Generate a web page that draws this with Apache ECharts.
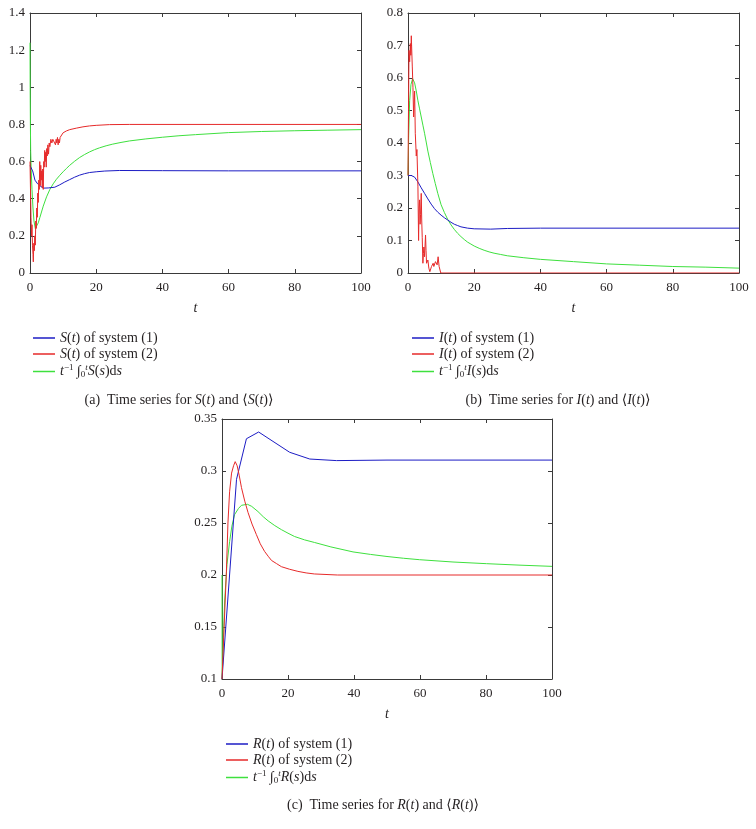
<!DOCTYPE html>
<html><head><meta charset="utf-8">
<script src="https://cdn.jsdelivr.net/npm/echarts@6/dist/echarts.min.js"></script>
<style>html,body{margin:0;padding:0;background:#fff}#c{width:756px;height:829px}</style>
</head><body><div id="c"></div>
<script>
// ---- data (t, value) ----
const xTicks = [0, 20, 40, 60, 80, 100];
const sSys1 = [[0,0.578],[0.8,0.55],[1.5,0.5],[2.3,0.48],[3,0.47],[4,0.457],[5.5,0.458],[7.5,0.462],[9,0.475],[10.5,0.49],[12,0.503],[13.5,0.516],[15,0.527],[16.5,0.535],[18,0.541],[20,0.545],[22.6,0.549],[27,0.552],[40,0.551],[60,0.55],[100,0.55]];
const sSys2 = [[0,0.6],[0.15,0.45],[0.3,0.3],[0.45,0.2],[0.6,0.26],[0.75,0.15],[0.9,0.1],[1.0,0.06],[1.15,0.16],[1.3,0.12],[1.45,0.2],[1.6,0.15],[1.75,0.28],[1.9,0.24],[2.05,0.35],[2.2,0.3],[2.35,0.43],[2.5,0.38],[2.65,0.5],[2.8,0.45],[2.95,0.6],[3.1,0.47],[3.25,0.58],[3.4,0.5],[3.55,0.55],[3.7,0.46],[3.85,0.56],[4.0,0.45],[4.15,0.6],[4.3,0.57],[4.45,0.66],[4.6,0.6],[4.75,0.65],[4.9,0.57],[5.05,0.67],[5.2,0.63],[5.4,0.69],[5.6,0.64],[5.8,0.7],[6.0,0.68],[6.3,0.72],[6.6,0.7],[6.9,0.72],[7.2,0.71],[7.5,0.73],[7.7,0.69],[7.9,0.72],[8.1,0.7],[8.3,0.73],[8.5,0.69],[8.7,0.72],[8.9,0.7],[9.1,0.73],[9.4,0.74],[10,0.755],[11,0.765],[12,0.772],[14,0.78],[16,0.787],[18,0.792],[20,0.795],[24,0.799],[30,0.8],[100,0.8]];
const sMean = [[0,1.24],[0.05,1.0],[0.12,0.8],[0.2,0.66],[0.35,0.56],[0.6,0.45],[0.9,0.35],[1.2,0.28],[1.6,0.24],[2,0.245],[2.5,0.27],[3,0.3],[4,0.36],[5,0.41],[6,0.45],[7,0.48],[8,0.505],[9,0.526],[10,0.545],[11,0.563],[12,0.58],[13.5,0.602],[15,0.622],[16.5,0.638],[18,0.652],[19.5,0.664],[21,0.674],[23,0.685],[25,0.694],[27.5,0.703],[30,0.711],[35,0.722],[40,0.731],[45,0.739],[50,0.745],[60,0.756],[70,0.762],[80,0.766],[90,0.769],[100,0.772]];

const iSys1 = [[0,0.3],[1,0.3],[2,0.295],[3,0.28],[4,0.262],[5,0.245],[6,0.228],[7,0.212],[8,0.198],[9,0.187],[10,0.178],[11,0.17],[12,0.163],[13,0.156],[14,0.15],[15,0.146],[16,0.142],[18,0.138],[20,0.136],[25,0.135],[30,0.137],[40,0.138],[100,0.138]];
const iSys2 = [[0,0.3],[0.15,0.5],[0.3,0.685],[0.5,0.65],[0.7,0.706],[0.85,0.67],[1.0,0.73],[1.15,0.68],[1.3,0.634],[1.5,0.57],[1.7,0.48],[1.85,0.52],[2.0,0.56],[2.2,0.43],[2.5,0.36],[2.7,0.38],[3.0,0.265],[3.2,0.1],[3.35,0.2],[3.5,0.225],[3.65,0.15],[3.8,0.18],[4.0,0.245],[4.15,0.16],[4.3,0.11],[4.5,0.03],[4.65,0.06],[4.8,0.08],[5.0,0.05],[5.3,0.117],[5.45,0.07],[5.6,0.03],[6.0,0.04],[6.3,0.015],[6.6,0.004],[7.1,0.02],[7.6,0.03],[7.8,0.02],[8.1,0.015],[8.3,0.035],[8.6,0.04],[8.8,0.025],[9.1,0.05],[9.4,0.02],[9.9,0],[100,0]];
const iMean = [[0,0.3],[0.2,0.42],[0.5,0.53],[0.9,0.58],[1.4,0.598],[2,0.585],[2.5,0.56],[3,0.53],[3.5,0.505],[4,0.48],[4.5,0.455],[5,0.43],[5.5,0.403],[6,0.375],[6.75,0.34],[7.5,0.306],[8.25,0.275],[9,0.245],[10,0.21],[11,0.186],[12,0.165],[13,0.148],[14,0.134],[15,0.122],[16,0.112],[17,0.103],[18,0.095],[19,0.089],[20,0.083],[21.5,0.076],[23,0.07],[24.5,0.065],[26,0.061],[28,0.057],[30,0.053],[35,0.047],[40,0.042],[50,0.035],[60,0.028],[70,0.024],[80,0.02],[90,0.018],[100,0.015]];

const rSys1 = [[0,0.1],[4.4,0.292],[7.4,0.331],[11.1,0.3375],[20.5,0.318],[26.6,0.3115],[34.7,0.31],[50,0.3105],[100,0.3105]];
const rSys2 = [[0,0.1],[0.5,0.14],[1.3,0.2],[1.8,0.25],[2.3,0.28],[2.9,0.298],[3.5,0.305],[4.0,0.309],[4.6,0.305],[5.2,0.296],[5.9,0.284],[6.9,0.271],[7.9,0.26],[9.1,0.249],[10.4,0.239],[11.6,0.23],[12.9,0.2227],[14,0.218],[15,0.214],[16.5,0.211],[18,0.208],[20.5,0.2055],[23,0.2035],[25.5,0.202],[28,0.201],[35,0.2],[100,0.2]];
const rMean = [[0,0.2],[0.05,0.1],[0.8,0.175],[1.5,0.21],[2.3,0.232],[3,0.247],[3.8,0.258],[5,0.264],[5.9,0.267],[7.7,0.268],[9,0.266],[10.9,0.261],[12.5,0.256],[14,0.252],[16,0.2475],[18,0.2436],[20,0.2402],[22,0.237],[25,0.2338],[28,0.2313],[33,0.227],[39.7,0.2222],[45,0.2198],[50,0.2178],[55,0.2161],[59.9,0.2147],[70,0.2125],[80.1,0.2109],[90,0.2095],[100,0.2083]];

const yRanges = [{min:0,max:1.4,interval:0.2},{min:0,max:0.8,interval:0.1},{min:0.1,max:0.35,interval:0.05}];

// ---- styling ----
const FONT = '"Liberation Serif", "DejaVu Serif", serif';
const TXT = '#231f20';
const AX = '#3a3a3a';
const C_BLUE = '#1c1cc4', C_RED = '#e62a2a', C_GREEN = '#3ee03e';
const grids = [
  {left:30, top:13, width:331, height:260},
  {left:408, top:13, width:331, height:260},
  {left:222, top:419, width:330, height:260}
];

const xAxes = [], yAxes = [];
grids.forEach((g, i) => {
  const base = {gridIndex:i, type:'value', min:0, max:100, interval:20, splitLine:{show:false},
    axisLine:{show:true, onZero:false, lineStyle:{color:AX, width:1}},
    axisTick:{show:true, inside:true, length:4, lineStyle:{color:AX}}};
  xAxes.push(Object.assign({}, base, {position:'bottom',
    axisLabel:{show:true, margin:8, fontFamily:FONT, fontSize:13, color:TXT},
    name:'t', nameLocation:'middle', nameGap:28,
    nameTextStyle:{fontFamily:FONT, fontSize:14, fontStyle:'italic', color:TXT}}));
  xAxes.push(Object.assign({}, base, {position:'top', axisLabel:{show:false}}));
  const yr = yRanges[i];
  const ybase = {gridIndex:i, type:'value', min:yr.min, max:yr.max, interval:yr.interval, splitLine:{show:false},
    axisLine:{show:true, onZero:false, lineStyle:{color:AX, width:1}},
    axisTick:{show:true, inside:true, length:4, lineStyle:{color:AX}}};
  yAxes.push(Object.assign({}, ybase, {position:'left',
    axisLabel:{show:true, margin:5, fontFamily:FONT, fontSize:13, color:TXT,
      formatter: v => String(Math.round(v*100)/100)}}));
  yAxes.push(Object.assign({}, ybase, {position:'right', axisLabel:{show:false}}));
});

function line(name, data, color, i) {
  return {name, type:'line', data, xAxisIndex:2*i, yAxisIndex:2*i, showSymbol:false, symbol:'none',
    lineStyle:{color, width:1}, itemStyle:{color}, animation:false, z: 3};
}

const rich = {
  i:{fontFamily:FONT, fontSize:14, fontStyle:'italic', color:TXT},
  n:{fontFamily:FONT, fontSize:14, color:TXT},
  sup:{fontFamily:FONT, fontSize:9, color:TXT, padding:[0,0,8,0]},
  supi:{fontFamily:FONT, fontSize:9, fontStyle:'italic', color:TXT, padding:[0,0,8,0]},
  sub:{fontFamily:FONT, fontSize:9, color:TXT, padding:[7,0,0,0]}
};
const labels = {
  S1:'{i|S}({i|t}) of system (1)', S2:'{i|S}({i|t}) of system (2)', S3:'{i|t}{sup|−1} ∫{sub|0}{supi|t}{i|S}({i|s})d{i|s}',
  I1:'{i|I}({i|t}) of system (1)', I2:'{i|I}({i|t}) of system (2)', I3:'{i|t}{sup|−1} ∫{sub|0}{supi|t}{i|I}({i|s})d{i|s}',
  R1:'{i|R}({i|t}) of system (1)', R2:'{i|R}({i|t}) of system (2)', R3:'{i|t}{sup|−1} ∫{sub|0}{supi|t}{i|R}({i|s})d{i|s}'
};
function legend(names, left, top) {
  return {data:names, left, top, orient:'vertical', itemGap:2, itemWidth:22, itemHeight:1.5, itemTextGap:7,
    icon:'rect', selectedMode:false,
    formatter: n => labels[n],
    textStyle:{fontFamily:FONT, fontSize:14, color:TXT, rich}};
}
function caption(txt, x, y) {
  return {text:txt, left:x, top:y, textAlign:'center',
    textStyle:{fontFamily:FONT, fontSize:14, fontWeight:'normal', color:TXT, rich}};
}

const option = {
  backgroundColor:'#fff', animation:false,
  grid: grids,
  xAxis: xAxes, yAxis: yAxes,
  legend: [legend(['S1','S2','S3'], 28, 326), legend(['I1','I2','I3'], 407, 326), legend(['R1','R2','R3'], 221, 732)],
  title: [
    caption('{n|(a)  Time series for }{i|S}({i|t}){n| and ⟨}{i|S}({i|t}){n|⟩}', 174, 388),
    caption('{n|(b)  Time series for }{i|I}({i|t}){n| and ⟨}{i|I}({i|t}){n|⟩}', 553, 388),
    caption('{n|(c)  Time series for }{i|R}({i|t}){n| and ⟨}{i|R}({i|t}){n|⟩}', 378, 793)
  ],
  series: [
    line('S3', sMean, C_GREEN, 0), line('S1', sSys1, C_BLUE, 0), line('S2', sSys2, C_RED, 0),
    line('I3', iMean, C_GREEN, 1), line('I1', iSys1, C_BLUE, 1), line('I2', iSys2, C_RED, 1),
    line('R3', rMean, C_GREEN, 2), line('R1', rSys1, C_BLUE, 2), line('R2', rSys2, C_RED, 2)
  ]
};
const chart = echarts.init(document.getElementById('c'), null, {renderer:'canvas'});
chart.setOption(option);
</script></body></html>
